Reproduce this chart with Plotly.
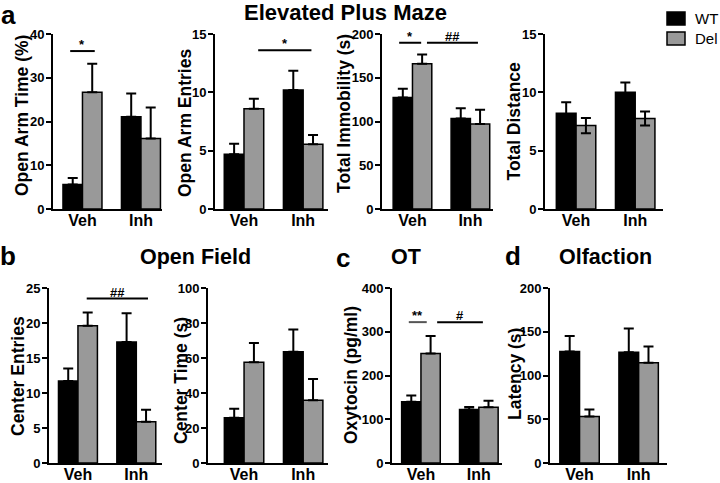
import plotly.graph_objects as go

categories = ["Veh", "Inh"]

# Elevated Plus Maze
oat_wt = [5.6, 21.1]
oat_wt_err = [1.5, 5.3]
oat_del = [26.7, 16.1]
oat_del_err = [6.5, 7.1]

oae_wt = [4.7, 10.2]
oae_wt_err = [0.9, 1.65]
oae_del = [8.6, 5.55]
oae_del_err = [0.85, 0.8]

imm_wt = [127.5, 103.5]
imm_wt_err = [9.8, 11.5]
imm_del = [166, 97]
imm_del_err = [10.5, 16.5]

dist_wt = [8.2, 10.0]
dist_wt_err = [0.95, 0.85]
dist_del = [7.15, 7.75]
dist_del_err = [0.65, 0.6]

# Open Field
ce_wt = [11.7, 17.3]
ce_wt_err = [1.8, 4.1]
ce_del = [19.6, 5.9]
ce_del_err = [1.9, 1.7]

ct_wt = [25.8, 63.5]
ct_wt_err = [5.2, 12.8]
ct_del = [57.5, 35.8]
ct_del_err = [11.0, 12.2]

# OT
ot_wt = [140, 122]
ot_wt_err = [14, 6]
ot_del = [250, 127.5]
ot_del_err = [40, 14.5]

# Olfaction
lat_wt = [127.5, 126.7]
lat_wt_err = [17.5, 27]
lat_del = [53, 114.5]
lat_del_err = [8, 18.5]

y_titles = ["Open Arm Time (%)", "Open Arm Entries", "Total Immobility (s)", "Total Distance",
            "Center Entries", "Center Time (s)", "Oxytocin (pg/ml)", "Latency (s)"]
y_max = [40, 15, 200, 15, 25, 100, 400, 200]
y_dtick = [10, 5, 50, 5, 5, 20, 100, 50]

panels = [
    (oat_wt, oat_wt_err, oat_del, oat_del_err, False),
    (oae_wt, oae_wt_err, oae_del, oae_del_err, False),
    (imm_wt, imm_wt_err, imm_del, imm_del_err, False),
    (dist_wt, dist_wt_err, dist_del, dist_del_err, True),
    (ce_wt, ce_wt_err, ce_del, ce_del_err, False),
    (ct_wt, ct_wt_err, ct_del, ct_del_err, False),
    (ot_wt, ot_wt_err, ot_del, ot_del_err, False),
    (lat_wt, lat_wt_err, lat_del, lat_del_err, False),
]

W, H = 720, 483
# pixel layout of the axes (left, right) and rows (top, bottom)
x_px = [(53, 162), (215, 328), (382, 493), (545, 663),
        (49, 162), (208, 328), (392, 502), (550, 667)]
x_ranges = [[-0.504, 1.36], [-0.49, 1.42], [-0.526, 1.39], [-0.525, 1.47],
            [-0.496, 1.44], [-0.61, 1.42], [-0.5, 1.40], [-0.5, 1.48]]
rows_px = [(34, 209), (288, 463)]
# y-title centres (px)
ytitle_px = [(22, 116), (184.5, 122.5), (344, 114), (514, 121.5),
             (18, 376), (181, 381), (351, 375), (515, 374)]

FONT = "Liberation Sans, Arial, sans-serif"
GREY = "#999999"


def px_x(v):
    return v / W


def px_y(v):
    return 1 - v / H


fig = go.Figure()
layout = {}
annotations = []
for i, (wt, wte, dl, dle, sym) in enumerate(panels):
    n = i + 1
    xa = "x" if n == 1 else f"x{n}"
    ya = "y" if n == 1 else f"y{n}"
    fig.add_trace(go.Bar(
        x=categories, y=wt, name="WT", xaxis=xa, yaxis=ya, offsetgroup="wt",
        marker=dict(color="black", line=dict(color="black", width=1.5)),
        error_y=dict(type="data", array=wte, symmetric=True if sym else False,
                     arrayminus=wte if sym else [0, 0],
                     color="black", thickness=2, width=5),
        showlegend=False, hoverinfo="skip"))
    fig.add_trace(go.Bar(
        x=categories, y=dl, name="Del", xaxis=xa, yaxis=ya, offsetgroup="del",
        marker=dict(color=GREY, line=dict(color="black", width=1.5)),
        error_y=dict(type="data", array=dle, symmetric=True if sym else False,
                     arrayminus=dle if sym else [0, 0],
                     color="black", thickness=2, width=5),
        showlegend=False, hoverinfo="skip"))
    row = rows_px[0] if i < 4 else rows_px[1]
    x0, x1 = x_px[i]
    xkey = "xaxis" if n == 1 else f"xaxis{n}"
    ykey = "yaxis" if n == 1 else f"yaxis{n}"
    layout[xkey] = dict(
        domain=[x0 / W, x1 / W], anchor=ya, type="category", range=x_ranges[i],
        showline=True, linewidth=2, linecolor="black", ticks="", showgrid=False,
        zeroline=False, automargin=False, ticklabelstandoff=-4, fixedrange=True,
        tickfont=dict(family=FONT, size=16, color="black", weight="bold"))
    layout[ykey] = dict(
        domain=[1 - row[1] / H, 1 - row[0] / H], anchor=xa, range=[0, y_max[i]],
        dtick=y_dtick[i], tick0=0, showline=True, linewidth=2, linecolor="black",
        ticks="outside", ticklen=5, tickwidth=2, tickcolor="black", showgrid=False,
        zeroline=False, automargin=False, fixedrange=True, ticklabelstandoff=-1,
        tickfont=dict(family=FONT, size=13, color="black", weight="bold"))
    tx, ty = ytitle_px[i]
    annotations.append(dict(xref="paper", yref="paper", x=px_x(tx), y=px_y(ty),
                            text=f"<b>{y_titles[i]}</b>", textangle=-90, showarrow=False,
                            xanchor="center", yanchor="middle",
                            font=dict(family=FONT, size=17.5, color="black")))

fig.update_layout(**layout)
fig.update_layout(width=W, height=H, margin=dict(l=0, r=0, t=0, b=0),
                  plot_bgcolor="white", paper_bgcolor="white",
                  barmode="group", bargap=0.333, bargroupgap=0,
                  showlegend=False)

shapes = []

# significance markers: (panel, x0, x1, y, label, color)
sig = [
    (1, -0.21, 0.21, 36.1, "*", "black"),
    (2, 0.24, 1.14, 13.6, "*", "black"),
    (3, -0.23, 0.15, 190, "*", "black"),
    (3, 0.25, 1.13, 190, "##", "black"),
    (5, 0.15, 1.20, 23.5, "##", "black"),
    (7, -0.21, 0.10, 322, "**", "#555555"),
    (7, 0.28, 1.07, 322, "#", "black"),
]
for p, a, b, yv, lab, col in sig:
    xr = "x" if p == 1 else f"x{p}"
    yr = "y" if p == 1 else f"y{p}"
    shapes.append(dict(type="line", xref=xr, yref=yr, x0=a, x1=b, y0=yv, y1=yv,
                       line=dict(color=col, width=2)))
    annotations.append(dict(xref=xr, yref=yr, x=(a + b) / 2, y=yv, text=lab,
                            showarrow=False, yanchor="bottom", yshift=-3,
                            font=dict(family=FONT, size=13, color="black", weight="bold")))

titles = [("Elevated Plus Maze", 345, 13, 22),
          ("Open Field", 196, 257, 21.5), ("OT", 406, 257, 21.5), ("Olfaction", 605, 257, 21.5)]
for t, xx, yy, sz in titles:
    annotations.append(dict(xref="paper", yref="paper", x=px_x(xx), y=px_y(yy),
                            text=f"<b>{t}</b>", showarrow=False, xanchor="center",
                            yanchor="middle", font=dict(family=FONT, size=sz, color="black")))
letters = [("a", 8, 15), ("b", 8, 256), ("c", 343, 258), ("d", 513, 256)]
for t, xx, yy in letters:
    annotations.append(dict(xref="paper", yref="paper", x=px_x(xx), y=px_y(yy),
                            text=f"<b>{t}</b>", showarrow=False, xanchor="center",
                            yanchor="middle", font=dict(family=FONT, size=26, color="black")))

# legend
legend_items = [("WT", "black", 12, 25), ("Del", GREY, 32, 45)]
for lab, col, t, b in legend_items:
    shapes.append(dict(type="rect", xref="paper", yref="paper", x0=px_x(667), x1=px_x(685),
                       y0=px_y(b), y1=px_y(t), fillcolor=col, line=dict(color="black", width=1.5)))
    annotations.append(dict(xref="paper", yref="paper", x=px_x(693), y=px_y((t + b) / 2),
                            text=lab, showarrow=False, xanchor="left", yanchor="middle",
                            font=dict(family=FONT, size=15, color="black")))

fig.update_layout(shapes=shapes, annotations=annotations)
fig.write_html("out.html", config={"displayModeBar": False, "staticPlot": True},
               post_script="document.body.style.margin='0';document.body.style.overflow='hidden';")
